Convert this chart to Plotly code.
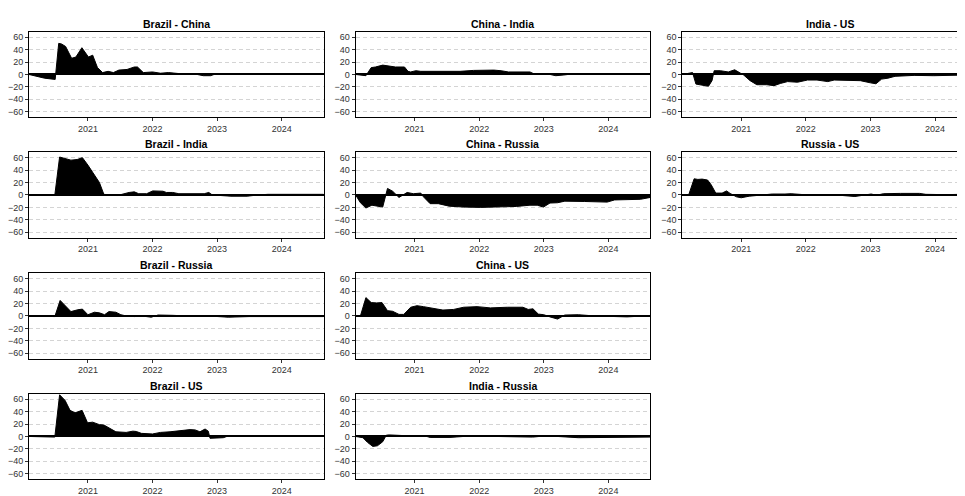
import pandas as pd
import plotly.graph_objects as go

# ---------------- data ----------------
PANEL_TITLES = ["Brazil - China", "Brazil - India", "Brazil - Russia", "Brazil - US",
                "China - India", "China - Russia", "China - US", "India - Russia",
                "India - US", "Russia - US"]

BRAZIL_CHINA_DATES = ["2020-02-03", "2020-03-15", "2020-05-01", "2020-06-30", "2020-07-20", "2020-08-05",
                      "2020-08-28", "2020-10-01", "2020-10-25", "2020-11-28", "2021-01-04", "2021-01-28",
                      "2021-02-24", "2021-03-25", "2021-04-25", "2021-05-25", "2021-06-25", "2021-08-10",
                      "2021-09-20", "2021-10-08", "2021-11-10", "2022-01-01", "2022-02-15", "2022-04-01",
                      "2022-06-15", "2022-09-10", "2022-10-15", "2022-11-25", "2022-12-25", "2023-03-01",
                      "2023-06-01", "2024-08-25"]
BRAZIL_CHINA_VALUES = [0, -3, -6, -8, 50, 49, 45, 26, 28, 43, 28, 31, 11, 3, 5, 3, 7, 8, 12, 12, 3, 4, 2, 3,
                       1, 0, -2, -2, 1, 1, 0, 0]

BRAZIL_INDIA_DATES = ["2020-02-03", "2020-06-28", "2020-07-25", "2020-08-31", "2020-09-27", "2020-11-01",
                      "2020-12-01", "2021-01-01", "2021-02-07", "2021-03-07", "2021-04-01", "2021-06-15",
                      "2021-08-22", "2021-09-20", "2021-10-15", "2021-11-29", "2022-01-02", "2022-03-01",
                      "2022-03-20", "2022-04-25", "2022-05-30", "2022-10-20", "2022-11-15", "2022-12-05",
                      "2023-03-20", "2023-06-20", "2023-08-20", "2023-10-15", "2024-08-25"]
BRAZIL_INDIA_VALUES = [0, 0, 61, 58, 56, 57, 60, 48, 32, 20, 1, -1, 4, 5, 2, 2, 6.5, 6, 4, 4, 2, 2, 4, 0,
                       -2, -2, 0, 1, 1]

BRAZIL_RUSSIA_DATES = ["2020-02-03", "2020-05-01", "2020-06-28", "2020-07-28", "2020-09-27", "2020-11-05",
                       "2020-12-01", "2021-01-01", "2021-02-07", "2021-03-07", "2021-04-05", "2021-04-30",
                       "2021-06-08", "2021-07-06", "2021-08-05", "2021-09-20", "2021-11-01", "2021-12-25",
                       "2022-02-01", "2022-04-25", "2022-07-15", "2022-10-15", "2023-03-05", "2023-07-01",
                       "2024-08-25"]
BRAZIL_RUSSIA_VALUES = [0, 0, -1, 25, 7, 10, 11, 2, 6, 5, 2, 7, 6, 2, 0, -1, 0, -2, 1.5, 1, 0, 0.5, -2,
                        -1, -1]

BRAZIL_US_DATES = ["2020-02-03", "2020-05-01", "2020-06-28", "2020-07-25", "2020-08-25", "2020-09-22",
                   "2020-10-20", "2020-11-29", "2020-12-30", "2021-01-28", "2021-03-07", "2021-04-01",
                   "2021-05-10", "2021-06-08", "2021-08-05", "2021-09-12", "2021-10-01", "2021-10-30",
                   "2022-01-01", "2022-02-15", "2022-04-10", "2022-06-05", "2022-08-01", "2022-08-30",
                   "2022-09-26", "2022-10-25", "2022-11-12", "2022-11-22", "2023-02-05", "2023-02-25",
                   "2024-08-25"]
BRAZIL_US_VALUES = [0, 0, -1, 67, 58, 42, 38, 42, 22, 23, 19, 18.5, 12, 7.5, 6.5, 8.5, 8, 5, 4, 6.5, 7.5,
                    9, 11, 10.5, 7.5, 12, 8.5, -3, -2, 0, 0]

CHINA_INDIA_DATES = ["2020-02-03", "2020-03-01", "2020-04-01", "2020-05-01", "2020-05-25", "2020-07-05",
                     "2020-08-10", "2020-09-15", "2020-11-05", "2020-11-25", "2020-12-10", "2021-01-08",
                     "2021-02-05", "2021-03-15", "2021-04-30", "2021-08-10", "2021-09-15", "2021-11-30",
                     "2022-01-25", "2022-03-25", "2022-05-05", "2022-06-15", "2022-10-15", "2022-11-10",
                     "2023-02-05", "2023-03-10", "2023-04-20", "2023-07-01", "2023-11-25", "2024-01-10",
                     "2024-04-20", "2024-08-25"]
CHINA_INDIA_VALUES = [0, -1, -2, 11, 12, 15, 14, 12, 12, 5, 4, 6, 5, 5, 4, 4, 5, 6.5, 7, 7, 6, 4, 4, 0.5,
                      0, -2, -1, 1.5, 1.5, 0.5, 1.5, 1.5]

CHINA_RUSSIA_DATES = ["2020-02-03", "2020-03-01", "2020-04-01", "2020-05-05", "2020-07-05", "2020-08-01",
                      "2020-08-30", "2020-10-05", "2020-11-20", "2020-12-25", "2021-02-05", "2021-02-20",
                      "2021-03-30", "2021-05-15", "2021-07-15", "2021-10-05", "2022-01-10", "2022-04-25",
                      "2022-07-30", "2022-10-15", "2022-11-25", "2022-12-30", "2023-02-05", "2023-03-20",
                      "2023-04-30", "2023-08-20", "2023-12-25", "2024-02-05", "2024-05-10", "2024-06-30",
                      "2024-08-25"]
CHINA_RUSSIA_VALUES = [0, -12.5, -21, -16.5, -19.5, 10.5, 6, -4, 4, 2, 3, -3, -14, -14, -18, -19.5, -20,
                       -19.5, -18.5, -16.5, -16.5, -19.5, -13, -12.5, -10, -10.5, -11.5, -8, -8, -7, -4]

CHINA_US_DATES = ["2020-02-03", "2020-03-01", "2020-04-01", "2020-05-01", "2020-06-01", "2020-07-01",
                  "2020-08-01", "2020-08-30", "2020-10-05", "2020-11-01", "2020-12-10", "2021-01-15",
                  "2021-02-20", "2021-05-05", "2021-06-10", "2021-08-10", "2021-10-05", "2021-12-20",
                  "2022-03-05", "2022-06-10", "2022-09-05", "2022-10-05", "2022-11-01", "2022-12-01",
                  "2023-01-01", "2023-02-05", "2023-03-20", "2023-04-30", "2023-07-15", "2023-10-15",
                  "2024-02-05", "2024-04-15", "2024-08-25"]
CHINA_US_VALUES = [0, 0, 29.5, 21.5, 21, 21.5, 8.5, 7.5, 2.5, 2.5, 14, 16.5, 15, 11, 9.5, 10.5, 14, 15,
                   13, 14, 14, 10.5, 11.5, 3, 2, -1.5, -5, 1.5, 2, 0, -1, -1.5, 0.5]

INDIA_RUSSIA_DATES = ["2020-02-03", "2020-03-15", "2020-04-10", "2020-05-10", "2020-06-05", "2020-07-05",
                      "2020-07-25", "2020-08-10", "2020-10-25", "2020-11-25", "2021-01-15", "2021-02-20",
                      "2021-03-30", "2021-07-20", "2021-10-05", "2022-02-10", "2022-04-05", "2022-10-30",
                      "2023-02-01", "2023-03-20", "2023-07-15", "2023-12-25", "2024-02-20", "2024-05-20",
                      "2024-08-25"]
INDIA_RUSSIA_VALUES = [0, -2, -9.5, -16, -15, -8.5, 2, 2.5, 1.5, 0, 1.5, 1.5, -1.5, -1.5, 0, 1, 0, -1,
                       1.5, 0, -2, -2, -1, -2, -1]

INDIA_US_DATES = ["2020-02-03", "2020-03-01", "2020-04-01", "2020-04-20", "2020-05-20", "2020-06-30",
                  "2020-07-20", "2020-08-01", "2020-09-05", "2020-10-20", "2020-11-25", "2020-12-25",
                  "2021-01-15", "2021-02-20", "2021-03-30", "2021-05-25", "2021-07-05", "2021-08-10",
                  "2021-09-20", "2021-11-15", "2022-01-10", "2022-03-05", "2022-05-05", "2022-06-10",
                  "2022-08-25", "2022-11-05", "2023-01-01", "2023-02-01", "2023-03-05", "2023-04-10",
                  "2023-05-20", "2023-09-05", "2023-12-25", "2024-04-15", "2024-08-25"]
INDIA_US_VALUES = [0, 1, 3, -15.5, -17, -19, -10, 6, 6, 4, 7.5, 3, -1, -10, -16.5, -16.5, -18, -14.5,
                   -11.5, -12.5, -9, -9, -11.5, -9, -10, -10, -13.5, -15, -7.5, -6, -3, -1.5, -2, -1.5,
                   -0.5]

RUSSIA_US_DATES = ["2020-02-03", "2020-03-10", "2020-04-10", "2020-05-01", "2020-05-25", "2020-06-25",
                   "2020-07-15", "2020-08-10", "2020-09-15", "2020-10-10", "2020-10-30", "2020-12-05",
                   "2021-01-01", "2021-02-15", "2021-05-01", "2021-06-25", "2021-09-05", "2021-10-10",
                   "2021-12-20", "2022-06-20", "2022-10-05", "2022-12-20", "2023-01-05", "2023-02-05",
                   "2023-03-15", "2023-06-20", "2023-10-05", "2023-11-10", "2024-03-01", "2024-08-25"]
RUSSIA_US_VALUES = [0, 0, 26, 25, 25.5, 24, 16.5, 3, 3, 6.5, 2.5, -3, -4.5, -2, 0, 1.5, 1.5, 2, 0.5, 0,
                    -2.5, 0, 1.5, -0.5, 2, 2.5, 2.5, 1, 0.5, 1.5]

SERIES = [
    (BRAZIL_CHINA_DATES, BRAZIL_CHINA_VALUES),
    (BRAZIL_INDIA_DATES, BRAZIL_INDIA_VALUES),
    (BRAZIL_RUSSIA_DATES, BRAZIL_RUSSIA_VALUES),
    (BRAZIL_US_DATES, BRAZIL_US_VALUES),
    (CHINA_INDIA_DATES, CHINA_INDIA_VALUES),
    (CHINA_RUSSIA_DATES, CHINA_RUSSIA_VALUES),
    (CHINA_US_DATES, CHINA_US_VALUES),
    (INDIA_RUSSIA_DATES, INDIA_RUSSIA_VALUES),
    (INDIA_US_DATES, INDIA_US_VALUES),
    (RUSSIA_US_DATES, RUSSIA_US_VALUES),
]

Y_TICKS = [-60, -40, -20, 0, 20, 40, 60]
X_TICKS = ["2021-01-01", "2022-01-01", "2023-01-01", "2024-01-01"]
X_TICK_LABELS = ["2021", "2022", "2023", "2024"]
X_START = "2020-02-03"
X_END = "2024-08-25"

# ---------------- layout geometry (pixels in the 965x496 window) ----------------
PAGE_OFFSET = 8                      # default body margin of the html page
W, H = 965 - PAGE_OFFSET, 496 - PAGE_OFFSET
COL_LEFT = [28 - PAGE_OFFSET, 355 - PAGE_OFFSET, 682 - PAGE_OFFSET]
PANEL_W = 295
ROW_TOP = [32 - PAGE_OFFSET, 153.5 - PAGE_OFFSET, 275.5 - PAGE_OFFSET, 397 - PAGE_OFFSET]
PANEL_H = 86
Y_RANGE = [-68.6, 68.6]

FONT = "Liberation Sans, Arial, Helvetica, sans-serif"
TICK_COLOR = "#333333"
GRID_COLOR = "#d4d4d4"

t0 = pd.Timestamp(X_START)
t1 = pd.Timestamp(X_END)
span = t1 - t0

fig = go.Figure()
annotations = []
layout_axes = {}

for i, (title, (dates, vals)) in enumerate(zip(PANEL_TITLES, SERIES)):
    col = i // 4
    row = i % 4
    left = COL_LEFT[col]
    right = min(left + PANEL_W, W)
    top = ROW_TOP[row]
    bottom = top + PANEL_H
    frac = (right - left) / PANEL_W
    x_end = t0 + span * frac

    n = i + 1
    xa = "x" if n == 1 else f"x{n}"
    ya = "y" if n == 1 else f"y{n}"
    xkey = "xaxis" if n == 1 else f"xaxis{n}"
    ykey = "yaxis" if n == 1 else f"yaxis{n}"

    fig.add_trace(go.Scatter(
        x=pd.to_datetime(dates), y=vals, mode="lines",
        line=dict(color="black", width=1), fill="tozeroy", fillcolor="black",
        xaxis=xa, yaxis=ya, showlegend=False, hoverinfo="x+y"))

    clipped = right < left + PANEL_W
    layout_axes[xkey] = dict(
        domain=[left / W, right / W], anchor=ya, type="date",
        range=[t0, x_end], tickvals=pd.to_datetime(X_TICKS), ticktext=X_TICK_LABELS,
        showgrid=False, zeroline=False, showline=True, linecolor="black", linewidth=1,
        mirror=True, ticks="outside", ticklen=3, tickwidth=1, tickcolor="#333333",
        tickfont=dict(family=FONT, size=9, color=TICK_COLOR), fixedrange=True)
    layout_axes[ykey] = dict(
        domain=[1 - bottom / H, 1 - top / H], anchor=xa, range=Y_RANGE,
        tickvals=Y_TICKS, showgrid=True, gridcolor=GRID_COLOR, griddash="4px,3px", gridwidth=1,
        zeroline=True, zerolinecolor="black", zerolinewidth=1.5,
        showline=True, linecolor="black", linewidth=1, mirror=(not clipped),
        ticks="outside", ticklen=3, tickwidth=1, tickcolor="#333333",
        tickfont=dict(family=FONT, size=9, color=TICK_COLOR), fixedrange=True)

    annotations.append(dict(
        text=f"<b>{title}</b>", x=(left + PANEL_W / 2) / W, y=1 - top / H,
        xref="paper", yref="paper", xanchor="center", yanchor="bottom", yshift=0,
        showarrow=False, font=dict(family=FONT, size=10.5, color="black")))

fig.update_layout(
    width=W, height=H, autosize=False,
    margin=dict(l=0, r=0, t=0, b=0),
    paper_bgcolor="white", plot_bgcolor="white",
    annotations=annotations, showlegend=False,
    **layout_axes)

fig.write_html("out.html")
